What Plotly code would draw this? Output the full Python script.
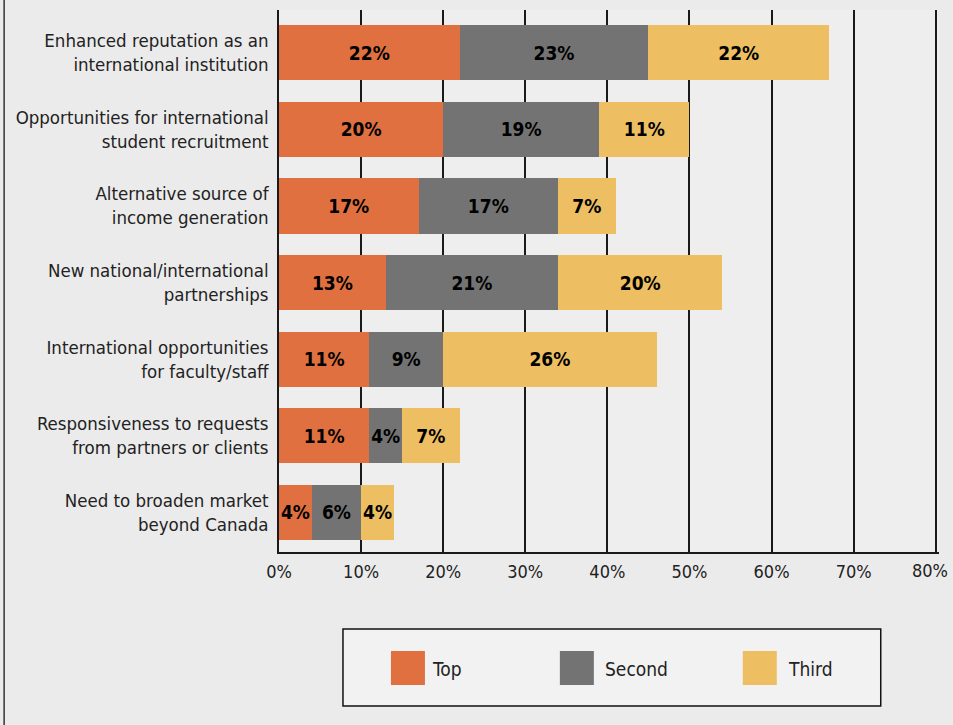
import plotly.graph_objects as go

categories = [
    "Enhanced reputation as an<br>international institution",
    "Opportunities for international<br>student recruitment",
    "Alternative source of<br>income generation",
    "New national/international<br>partnerships",
    "International opportunities<br>for faculty/staff",
    "Responsiveness to requests<br>from partners or clients",
    "Need to broaden market<br>beyond Canada",
]
series_names = ["Top", "Second", "Third"]
top_vals = [22, 20, 17, 13, 11, 11, 4]
second_vals = [23, 19, 17, 21, 9, 4, 6]
third_vals = [22, 11, 7, 20, 26, 7, 4]
x_ticks = [0, 10, 20, 30, 40, 50, 60, 70, 80]
x_tick_labels = [f"{t}%" for t in x_ticks]

colors = ["#E07040", "#737373", "#EDBF62"]
FONT = "DejaVu Sans Condensed, Liberation Sans Narrow, sans-serif"

fig = go.Figure()
for name, vals, col in zip(series_names, [top_vals, second_vals, third_vals], colors):
    fig.add_trace(go.Bar(
        y=categories, x=vals, name=name, orientation="h",
        marker=dict(color=col, line=dict(width=0)),
        width=0.72,
        text=[f"{v}%" for v in vals], textposition="inside",
        insidetextanchor="middle", textangle=0,
        textfont=dict(family=FONT, size=19, color="#000000", weight="bold"),
        showlegend=False,
    ))

# Plot area geometry in pixels: x 279..936, y 10..552
L, R, T, B = 279, 936, 10, 552
XMAX = 80.4
RIGHT_EDGE = L + (R - L) * XMAX / 80.0
H = B - T

def px(x):
    return (x - L) / (RIGHT_EDGE - L)

def py(y):
    return (B - y) / H

shapes = []
annotations = []
# legend box
shapes.append(dict(type="rect", xref="paper", yref="paper",
                   x0=px(343), x1=px(881), y0=py(706), y1=py(629),
                   line=dict(color="#111111", width=1.5), fillcolor="rgba(245,245,245,0.7)", layer="above"))
sq_left = [391, 560, 743]
txt_left = [432, 605, 788]
for name, col, sx, tx in zip(series_names, colors, sq_left, txt_left):
    shapes.append(dict(type="rect", xref="paper", yref="paper",
                       x0=px(sx), x1=px(sx + 34), y0=py(685), y1=py(651),
                       line=dict(width=0), fillcolor=col, layer="above"))
    annotations.append(dict(xref="paper", yref="paper", x=px(tx), y=py(669),
                            text=name, showarrow=False, xanchor="left", yanchor="middle",
                            xshift=-2,
                            font=dict(family=FONT, size=19, color="#222222")))
# last tick label nudged left to stay inside the page, as in the reference
annotations.append(dict(xref="x", yref="paper", x=x_ticks[-1], y=py(570.5), text=x_tick_labels[-1],
                        showarrow=False, xanchor="center", yanchor="middle", xshift=-6,
                        font=dict(family=FONT, size=18, color="#222222")))
# left frame line
shapes.append(dict(type="line", xref="paper", yref="paper",
                   x0=px(4), x1=px(4), y0=py(725), y1=py(0),
                   line=dict(color="#333333", width=1.5)))

fig.update_layout(
    width=953, height=725,
    margin=dict(l=L, r=953 - RIGHT_EDGE, t=T, b=725 - B, autoexpand=False),
    paper_bgcolor="#ebebeb", plot_bgcolor="#eeeeee",
    barmode="stack",
    font=dict(family=FONT, size=18, color="#222222"),
    uniformtext=dict(minsize=19, mode="show"),
    xaxis=dict(range=[0, XMAX], tickvals=x_ticks,
               ticktext=x_tick_labels[:-1] + [""],
               showgrid=True, gridcolor="#1a1a1a", gridwidth=1.5,
               showline=True, linecolor="#1a1a1a", linewidth=2,
               zeroline=False, ticks="", fixedrange=True, automargin=False,
               ticklabelstandoff=2,
               tickfont=dict(family=FONT, size=18, color="#222222")),
    yaxis=dict(autorange=False, range=[6.52, -0.56], showgrid=False,
               showline=True, linecolor="#1a1a1a", linewidth=1.5,
               ticks="", ticklabelstandoff=5, automargin=False,
               tickfont=dict(family=FONT, size=18.5, color="#222222")),
    shapes=shapes,
    annotations=annotations,
)

fig.write_html("out.html")
